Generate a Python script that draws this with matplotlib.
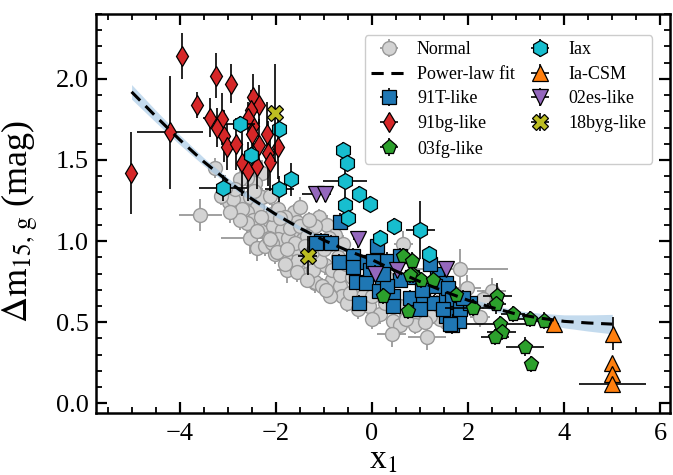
import matplotlib
matplotlib.use("Agg")
import matplotlib.pyplot as plt
import numpy as np
from matplotlib.ticker import MultipleLocator

plt.rcParams["font.family"] = ["Liberation Serif", "DejaVu Serif"]
plt.rcParams["mathtext.fontset"] = "stix"

# Normal SNe Ia: (x1, dm15g, x1_err, dm15g_err)
normal = [
    (-3.26, 1.45, 0.12, 0.06), (-3.57, 1.16, 0.45, 0.10), (-2.85, 1.25, 0.15, 0.06),
    (-2.98, 1.24, 0.20, 0.08), (-2.67, 1.26, 0.12, 0.06), (-2.53, 1.27, 0.15, 0.06),
    (-2.39, 1.21, 0.15, 0.07), (-2.60, 1.18, 0.20, 0.08), (-2.47, 1.13, 0.15, 0.06),
    (-2.60, 1.11, 0.12, 0.06), (-2.53, 1.02, 0.60, 0.10), (-2.39, 0.96, 0.15, 0.08),
    (-2.22, 0.97, 0.12, 0.06), (-2.26, 1.07, 0.15, 0.06), (-2.15, 1.13, 0.12, 0.05),
    (-2.05, 1.09, 0.15, 0.06), (-1.88, 1.07, 0.12, 0.05), (-1.81, 0.97, 0.15, 0.07),
    (-2.01, 0.92, 0.12, 0.06), (-1.77, 0.82, 0.20, 0.08), (-1.63, 1.18, 0.12, 0.05),
    (-1.56, 1.12, 0.15, 0.06), (-1.53, 1.06, 0.12, 0.05), (-1.43, 1.01, 0.15, 0.06),
    (-1.60, 0.95, 0.12, 0.06), (-1.56, 0.88, 0.15, 0.07), (-1.29, 0.86, 0.12, 0.06),
    (-1.18, 0.74, 0.15, 0.06), (-1.36, 0.80, 0.12, 0.06), (-2.08, 1.17, 0.15, 0.06),
    (-2.29, 1.42, 0.12, 0.08), (-2.43, 1.36, 0.15, 0.06), (-2.60, 1.39, 0.12, 0.06),
    (-2.74, 1.38, 0.15, 0.07), (-2.88, 1.26, 0.12, 0.06), (-2.85, 1.32, 0.15, 0.06),
    (-2.29, 1.27, 0.12, 0.06), (-2.12, 1.28, 0.15, 0.06), (-1.95, 1.20, 0.12, 0.05),
    (-1.81, 1.15, 0.15, 0.06), (-2.39, 1.06, 0.12, 0.06), (-1.95, 1.01, 0.15, 0.06),
    (-2.08, 0.99, 0.12, 0.05), (-1.74, 1.02, 0.15, 0.06), (-1.81, 0.91, 0.12, 0.06),
    (-3.05, 1.33, 0.15, 0.08), (-3.15, 1.28, 0.12, 0.06), (-2.70, 1.20, 0.15, 0.06),
    (-2.75, 1.13, 0.12, 0.06), (-2.95, 1.18, 0.15, 0.07), (-2.30, 1.15, 0.12, 0.05),
    (-2.45, 1.31, 0.15, 0.06), (-2.15, 1.02, 0.12, 0.06), (-1.70, 1.08, 0.15, 0.06),
    (-1.18, 0.75, 0.12, 0.05), (-0.84, 0.76, 0.15, 0.06), (-0.66, 0.72, 0.12, 0.05),
    (-0.63, 0.66, 0.15, 0.06), (-0.87, 0.66, 0.12, 0.05), (-0.52, 0.62, 0.15, 0.06),
    (-0.07, 0.60, 0.12, 0.05), (0.17, 0.55, 0.15, 0.06), (0.44, 0.51, 0.12, 0.05),
    (0.58, 0.48, 0.15, 0.06), (1.14, 0.41, 0.40, 0.08), (-1.04, 0.72, 0.12, 0.05),
    (-1.49, 1.21, 0.15, 0.06), (-1.11, 1.15, 0.12, 0.05), (-0.94, 1.10, 0.15, 0.06),
    (-1.18, 1.09, 0.12, 0.05), (-0.77, 1.04, 0.15, 0.06), (-0.87, 0.98, 0.12, 0.05),
    (-0.97, 0.85, 0.15, 0.06), (-0.84, 0.82, 0.12, 0.05), (-1.22, 0.82, 0.15, 0.06),
    (-1.08, 0.88, 0.12, 0.05), (-0.66, 0.79, 0.15, 0.06), (-0.42, 0.78, 0.12, 0.05),
    (-0.32, 0.72, 0.15, 0.06), (-0.18, 0.66, 0.12, 0.05), (-0.39, 0.83, 0.15, 0.06),
    (-0.18, 0.74, 0.12, 0.05), (0.17, 0.68, 0.15, 0.06), (0.27, 0.62, 0.12, 0.05),
    (0.58, 0.60, 0.15, 0.06), (0.86, 0.55, 0.12, 0.05), (1.28, 0.55, 0.15, 0.06),
    (1.35, 0.62, 0.12, 0.05), (1.55, 0.50, 0.15, 0.06), (0.41, 0.43, 0.30, 0.08),
    (-1.49, 1.09, 0.12, 0.05), (-1.36, 1.03, 0.15, 0.06), (-1.60, 0.99, 0.12, 0.05),
    (-1.39, 0.97, 0.15, 0.06), (-1.91, 1.14, 0.12, 0.05), (-2.12, 1.01, 0.15, 0.06),
    (-1.98, 0.93, 0.12, 0.05), (-1.77, 0.95, 0.15, 0.06), (-1.81, 0.86, 0.12, 0.05),
    (-1.56, 0.81, 0.15, 0.06), (-1.36, 0.76, 0.12, 0.05), (-1.25, 0.93, 0.15, 0.06),
    (-1.00, 0.95, 0.12, 0.05), (-0.70, 0.90, 0.15, 0.06), (-0.55, 0.86, 0.12, 0.05),
    (-0.90, 1.02, 0.15, 0.06), (-1.30, 1.13, 0.12, 0.05), (-0.60, 0.98, 0.15, 0.06),
    (1.83, 0.83, 1.00, 0.12), (1.97, 0.71, 0.30, 0.08), (2.49, 0.69, 0.30, 0.08),
    (2.32, 0.64, 0.20, 0.06), (2.25, 0.53, 0.20, 0.06), (0.65, 0.98, 0.20, 0.08),
    (1.42, 0.52, 0.15, 0.05), (1.21, 0.54, 0.15, 0.05), (0.90, 0.48, 0.15, 0.05),
    (0.00, 0.52, 0.15, 0.06), (-0.30, 0.58, 0.15, 0.06), (1.70, 0.58, 0.15, 0.05),
    (2.05, 0.60, 0.20, 0.06), (1.00, 0.66, 0.15, 0.05), (0.30, 0.78, 0.15, 0.05),
    (0.70, 0.52, 0.15, 0.05), (1.10, 0.50, 0.15, 0.05), (-0.45, 0.68, 0.15, 0.05),
    (-0.95, 0.70, 0.15, 0.05), (0.00, 0.66, 0.15, 0.05),
]

# 91T-like
sn91t = [
    (-0.66, 1.12, 0.10, 0.05), (-1.06, 1.00, 0.10, 0.05), (-0.86, 0.99, 0.10, 0.05),
    (-0.68, 0.87, 0.10, 0.05), (-0.40, 0.91, 0.10, 0.05), (-0.40, 0.84, 0.10, 0.05),
    (-0.11, 0.87, 0.10, 0.05), (0.10, 0.97, 0.10, 0.05), (-0.04, 0.82, 0.10, 0.05),
    (-0.33, 0.75, 0.10, 0.05), (-0.12, 0.74, 0.10, 0.05), (0.20, 0.74, 0.10, 0.05),
    (0.31, 0.88, 0.10, 0.05), (0.58, 0.91, 0.10, 0.05), (0.83, 0.78, 0.10, 0.05),
    (0.44, 0.66, 0.10, 0.05), (-0.27, 0.62, 0.10, 0.05), (0.15, 0.69, 0.10, 0.05),
    (0.79, 0.65, 0.10, 0.05), (1.06, 0.64, 0.10, 0.05), (1.01, 0.58, 0.10, 0.05),
    (1.29, 0.62, 0.10, 0.05), (1.36, 0.80, 0.10, 0.05), (1.55, 0.74, 0.10, 0.05),
    (1.55, 0.64, 0.10, 0.05), (1.76, 0.59, 0.10, 0.05), (1.55, 0.54, 0.10, 0.05),
    (1.66, 0.48, 0.10, 0.05), (1.82, 0.51, 0.10, 0.05), (1.21, 0.86, 0.10, 0.05),
    (0.58, 0.76, 0.10, 0.05), (0.31, 0.72, 0.10, 0.05), (0.44, 0.60, 0.10, 0.05),
    (1.31, 0.72, 0.10, 0.05), (1.04, 0.70, 0.10, 0.05), (0.03, 0.88, 0.10, 0.05),
    (0.24, 0.80, 0.10, 0.05), (1.58, 0.71, 0.10, 0.05), (1.66, 0.64, 0.10, 0.05),
    (1.83, 0.58, 0.10, 0.05), (2.04, 0.62, 0.10, 0.05), (1.90, 0.65, 0.10, 0.05),
    (1.62, 0.49, 0.10, 0.05), (1.47, 0.58, 0.10, 0.05), (-1.16, 0.99, 0.10, 0.05),
]

# 91bg-like
sn91bg = [
    (-3.95, 2.14, 0.05, 0.14), (-3.25, 2.02, 0.05, 0.14), (-2.94, 1.97, 0.05, 0.12),
    (-3.64, 1.84, 0.05, 0.08), (-2.47, 1.89, 0.05, 0.14), (-2.35, 1.84, 0.05, 0.12),
    (-3.37, 1.76, 0.15, 0.12), (-3.12, 1.75, 0.05, 0.16), (-2.52, 1.81, 0.05, 0.12),
    (-3.23, 1.70, 0.05, 0.12), (-2.48, 1.71, 0.05, 0.20), (-3.07, 1.65, 0.05, 0.16),
    (-2.50, 1.66, 0.05, 0.20), (-2.19, 1.66, 0.05, 0.20), (-3.02, 1.58, 0.10, 0.14),
    (-2.83, 1.60, 0.10, 0.16), (-2.35, 1.59, 0.05, 0.16), (-2.17, 1.54, 0.05, 0.20),
    (-1.95, 1.58, 0.05, 0.20), (-2.12, 1.49, 0.05, 0.18), (-2.71, 1.48, 0.10, 0.20),
    (-2.57, 1.43, 0.05, 0.18), (-2.40, 1.46, 0.05, 0.14), (-4.20, 1.67, 0.68, 0.35),
    (-5.01, 1.42, 0.05, 0.25), (-2.57, 1.76, 0.05, 0.10),
]

# 03fg-like
sn03fg = [
    (0.64, 0.91, 0.10, 0.05), (0.83, 0.88, 0.10, 0.05), (0.86, 0.79, 0.10, 0.05),
    (1.03, 0.76, 0.10, 0.05), (1.26, 0.76, 0.10, 0.05), (0.22, 0.66, 0.10, 0.05),
    (0.74, 0.57, 0.10, 0.05), (1.74, 0.67, 0.10, 0.05), (2.11, 0.59, 0.60, 0.05),
    (2.61, 0.66, 0.30, 0.08), (2.59, 0.61, 0.20, 0.06), (2.94, 0.55, 0.25, 0.05),
    (3.29, 0.52, 0.25, 0.05), (3.58, 0.51, 0.20, 0.05), (2.66, 0.49, 0.70, 0.05),
    (2.70, 0.44, 0.30, 0.05), (2.56, 0.41, 0.30, 0.05), (3.18, 0.35, 0.40, 0.06),
    (3.30, 0.24, 0.10, 0.05), (0.79, 0.79, 0.10, 0.05),
]

# Iax
sniax = [
    (-2.74, 1.72, 0.30, 0.05), (-1.93, 1.69, 0.10, 0.05), (-2.52, 1.53, 0.10, 0.05),
    (-3.10, 1.33, 0.50, 0.08), (-1.93, 1.32, 0.30, 0.08), (-1.69, 1.38, 0.10, 0.10),
    (-0.61, 1.56, 0.10, 0.05), (-0.52, 1.48, 0.10, 0.05), (-0.56, 1.37, 0.45, 0.10),
    (-0.26, 1.29, 0.10, 0.05), (-0.05, 1.23, 0.10, 0.05), (-0.57, 1.22, 0.10, 0.05),
    (-0.49, 1.14, 0.10, 0.05), (0.46, 1.09, 0.10, 0.05), (1.01, 1.07, 0.30, 0.18),
    (0.17, 1.02, 0.10, 0.05), (1.19, 0.92, 0.10, 0.05),
]

# Ia-CSM
sncsm = [
    (3.79, 0.49, 0.10, 0.03), (5.01, 0.43, 0.05, 0.10), (5.00, 0.25, 0.05, 0.03),
    (5.00, 0.18, 0.05, 0.03), (5.00, 0.12, 0.70, 0.03),
]

# 02es-like
sn02es = [
    (-1.16, 1.29, 0.30, 0.05), (-0.97, 1.29, 0.10, 0.05), (-0.30, 1.01, 0.10, 0.05),
    (0.06, 0.80, 0.10, 0.05), (0.52, 0.82, 0.10, 0.05), (1.55, 0.83, 0.10, 0.05),
]

# 18byg-like
sn18byg = [(-2.01, 1.79, 0.05, 0.30), (-1.34, 0.91, 0.20, 0.12)]

# power-law fit, with its band half-width
fit_x = [-5.0, -4.5, -4.0, -3.5, -3.0, -2.5, -2.0, -1.5, -1.0, -0.5, 0.0,
         0.5, 1.0, 1.5, 2.0, 2.5, 3.0, 3.5, 4.0, 4.5, 5.0]
fit_y = [1.92, 1.77, 1.625, 1.49, 1.37, 1.26, 1.165, 1.08, 1.005, 0.94, 0.885,
         0.815, 0.75, 0.69, 0.635, 0.59, 0.55, 0.525, 0.505, 0.495, 0.488]
fit_err = [0.045, 0.037, 0.03, 0.024, 0.02, 0.017, 0.015, 0.013, 0.012, 0.012, 0.012,
           0.012, 0.012, 0.013, 0.015, 0.018, 0.022, 0.03, 0.04, 0.05, 0.06]


fig = plt.figure(figsize=(6.73, 4.75), dpi=100)
ax = fig.add_axes([96 / 673, 1 - 413 / 475, 574 / 673, 399 / 475])

d = np.array(normal)
h_norm = ax.errorbar(d[:, 0], d[:, 1], xerr=d[:, 2], yerr=d[:, 3], fmt="o", ms=10,
                     mfc="#d3d3d3", mec="#999999", mew=1.0, ecolor="#999999",
                     elinewidth=1.3, zorder=1, label="Normal")

fx = np.array(fit_x)
fy = np.array(fit_y)
fe = np.array(fit_err)
ax.fill_between(fx, fy - fe, fy + fe, color="#9ec4e4", alpha=0.6, lw=0, zorder=2)
(h_fit,) = ax.plot(fx, fy, "--", color="k", lw=2.2, dashes=(4, 2.5), zorder=8,
                   label="Power-law fit")

groups = [
    (sn91t, "s", "#1f77b4", 10.5, "91T-like", 3),
    (sn91bg, "d", "#d62728", 10, "91bg-like", 5),
    (sn03fg, "p", "#2ca02c", 11, "03fg-like", 4),
    (sniax, "h", "#17becf", 11.5, "Iax", 6),
    (sncsm, "^", "#ff7f0e", 12, "Ia-CSM", 6),
    (sn02es, "v", "#9467bd", 11.5, "02es-like", 6),
    (sn18byg, "X", "#bcbd22", 11.5, "18byg-like", 7),
]
handles = {}
for data, marker, color, size, label, z in groups:
    d = np.array(data)
    handles[label] = ax.errorbar(d[:, 0], d[:, 1], xerr=d[:, 2], yerr=d[:, 3],
                                 fmt=marker, ms=size, mfc=color, mec="k", mew=0.9,
                                 ecolor="k", elinewidth=1.2, zorder=z, label=label)

order = [h_norm, h_fit, handles["91T-like"], handles["91bg-like"], handles["03fg-like"],
         handles["Iax"], handles["Ia-CSM"], handles["02es-like"], handles["18byg-like"]]
leg = ax.legend(order, [h.get_label() for h in order], ncol=2, loc="upper right",
                bbox_to_anchor=(0.985, 0.97), fontsize=13, handlelength=2.0,
                columnspacing=0.4, labelspacing=0.42, handletextpad=0.55,
                borderpad=0.35, framealpha=1.0)
leg.get_frame().set_edgecolor("#cccccc")
leg.set_zorder(20)

ax.set_xlim(-5.74, 6.2)
ax.set_ylim(-0.06, 2.40)
ax.xaxis.set_major_locator(MultipleLocator(2))
ax.xaxis.set_minor_locator(MultipleLocator(0.5))
ax.yaxis.set_major_locator(MultipleLocator(0.5))
ax.yaxis.set_minor_locator(MultipleLocator(0.1))
ax.tick_params(which="both", direction="in", top=True, right=True, labelsize=19)
ax.tick_params(which="major", length=8, width=1.6)
ax.tick_params(which="minor", length=4, width=1.3)
ax.tick_params(axis="x", pad=7)
ax.tick_params(axis="y", pad=5)
for sp in ax.spines.values():
    sp.set_linewidth(1.8)

ax.set_xlabel(r"x$_1$", fontsize=24, labelpad=0)
ax.set_ylabel(r"$\Delta\mathrm{m}_{15,\,\mathrm{g}}$ (mag)", fontsize=26, labelpad=2)
ax.yaxis.set_label_coords(-0.095, 0.48)

fig.savefig("out.png", dpi=100)
